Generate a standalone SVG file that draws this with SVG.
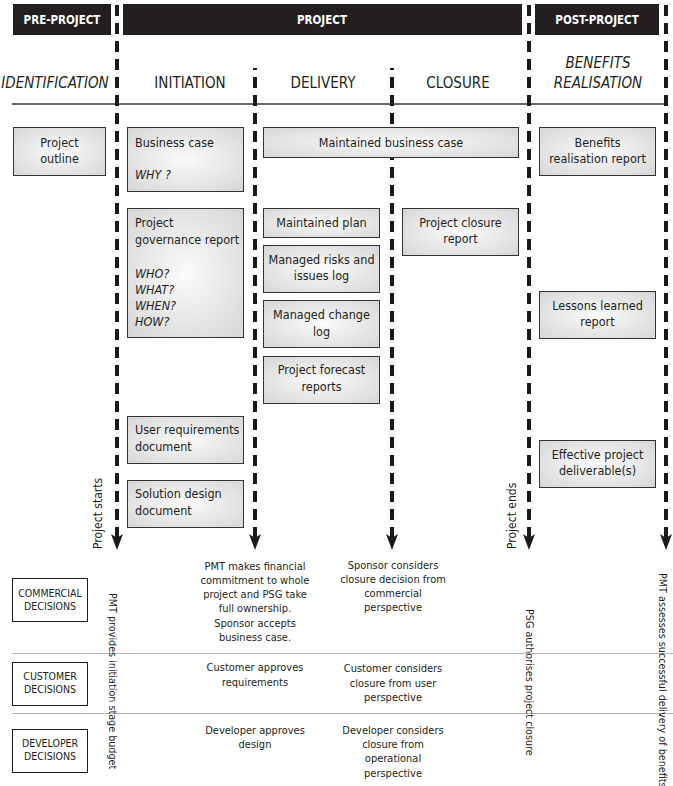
<svg xmlns="http://www.w3.org/2000/svg" width="673" height="786" viewBox="0 0 673 786">
<defs>
<radialGradient id="g" cx="50%" cy="50%" r="70%">
<stop offset="0" stop-color="#fbfbfb"/>
<stop offset="1" stop-color="#d6d6d6"/>
</radialGradient>
<marker id="ah" viewBox="0 0 16 12" refX="4" refY="6" markerWidth="16" markerHeight="12" markerUnits="userSpaceOnUse" orient="auto-start-reverse">
<path d="M0,0 L16,6 L0,12 L4,6 Z" fill="#1a1a1a"/>
</marker>
<style>
text{font-family:"DejaVu Sans Condensed","DejaVu Sans",sans-serif;fill:#231f20}
.hb{fill:#231f20}
.ht{fill:#fff;font-weight:bold;font-size:11.5px;text-anchor:middle}
.ph{font-size:15px;text-anchor:middle}
.it{font-style:italic}
.bx{fill:url(#g);stroke:#333;stroke-width:1}
.t{font-size:12.5px}
.c{text-anchor:middle}
.dl{fill:none;stroke:#1a1a1a;stroke-width:4;stroke-dasharray:11 7;marker-start:url(#ah)}
.db{fill:#fff;stroke:#1a1a1a;stroke-width:1}
.dt{font-size:10.5px;text-anchor:middle}
.bt{font-size:11px;text-anchor:middle}
.vt{font-size:10.7px}
.pt{font-size:12px}
.hr{stroke:#b5b5b5;stroke-width:1}
</style>
</defs>
<rect width="673" height="786" fill="#fff"/>

<g id="headers">
<rect class="hb" x="13" y="4" width="98" height="31"/>
<text class="ht" x="62" y="23.5">PRE-PROJECT</text>
<rect class="hb" x="123" y="4" width="399" height="31"/>
<text class="ht" x="322" y="23.5">PROJECT</text>
<rect class="hb" x="535" y="4" width="124" height="31"/>
<text class="ht" x="597" y="23.5">POST-PROJECT</text>
</g>

<g id="phases">
<text class="ph it" x="55" y="88">IDENTIFICATION</text>
<text class="ph" x="190" y="88">INITIATION</text>
<text class="ph" x="323" y="88">DELIVERY</text>
<text class="ph" x="458" y="88">CLOSURE</text>
<text class="ph it" x="598" y="68">BENEFITS</text>
<text class="ph it" x="598" y="88">REALISATION</text>
<line x1="12" y1="104" x2="667" y2="104" stroke="#333" stroke-width="1.5"/>
</g>

<g id="connectors">
<path class="dl" d="M117,538 V0"/>
<path class="dl" d="M255,538 V68"/>
<path class="dl" d="M392,538 V68"/>
<path class="dl" d="M529,538 V0"/>
<path class="dl" d="M666,538 V0"/>
</g>

<g id="project-outline">
<rect class="bx" x="13.5" y="127.5" width="92" height="48"/>
<text class="t c" x="59.5" y="146.5">Project</text>
<text class="t c" x="59.5" y="162.5">outline</text>
</g>
<g id="business-case">
<rect class="bx" x="127.5" y="127.5" width="116" height="64"/>
<text class="t" x="135" y="147">Business case</text>
<text class="t it" x="135" y="179">WHY ?</text>
</g>
<g id="maintained-business-case">
<rect class="bx" x="263.5" y="127.5" width="255" height="30"/>
<text class="t c" x="391" y="147">Maintained business case</text>
</g>
<g id="benefits-realisation-report">
<rect class="bx" x="539.5" y="127.5" width="116" height="48"/>
<text class="t c" x="597.5" y="146.5">Benefits</text>
<text class="t c" x="597.5" y="162.5">realisation report</text>
</g>
<g id="project-governance-report">
<rect class="bx" x="127.5" y="208.5" width="116" height="129"/>
<text class="t" x="135" y="227">Project</text>
<text class="t" x="135" y="243.5">governance report</text>
<text class="t it" x="135" y="277.5">WHO?</text>
<text class="t it" x="135" y="293.5">WHAT?</text>
<text class="t it" x="135" y="309.5">WHEN?</text>
<text class="t it" x="135" y="326">HOW?</text>
</g>
<g id="maintained-plan">
<rect class="bx" x="263.5" y="208.5" width="116" height="29"/>
<text class="t c" x="321.5" y="227">Maintained plan</text>
</g>
<g id="managed-risks">
<rect class="bx" x="263.5" y="245.5" width="116" height="47"/>
<text class="t c" x="321.5" y="263.5">Managed risks and</text>
<text class="t c" x="321.5" y="280">issues log</text>
</g>
<g id="managed-change-log">
<rect class="bx" x="263.5" y="300.5" width="116" height="47"/>
<text class="t c" x="321.5" y="318.5">Managed change</text>
<text class="t c" x="321.5" y="335.5">log</text>
</g>
<g id="project-forecast-reports">
<rect class="bx" x="263.5" y="356.5" width="116" height="47"/>
<text class="t c" x="321.5" y="373.5">Project forecast</text>
<text class="t c" x="321.5" y="390.5">reports</text>
</g>
<g id="project-closure-report">
<rect class="bx" x="402.5" y="208.5" width="116" height="47"/>
<text class="t c" x="460.5" y="226.5">Project closure</text>
<text class="t c" x="460.5" y="243">report</text>
</g>
<g id="lessons-learned-report">
<rect class="bx" x="539.5" y="291.5" width="116" height="47"/>
<text class="t c" x="597.5" y="309.5">Lessons learned</text>
<text class="t c" x="597.5" y="326">report</text>
</g>
<g id="user-requirements-document">
<rect class="bx" x="127.5" y="416.5" width="116" height="47"/>
<text class="t" x="135" y="433.5">User requirements</text>
<text class="t" x="135" y="450.5">document</text>
</g>
<g id="solution-design-document">
<rect class="bx" x="127.5" y="480.5" width="116" height="47"/>
<text class="t" x="135" y="497.5">Solution design</text>
<text class="t" x="135" y="514.5">document</text>
</g>
<g id="effective-project-deliverables">
<rect class="bx" x="539.5" y="440.5" width="116" height="47"/>
<text class="t c" x="597.5" y="458.5">Effective project</text>
<text class="t c" x="597.5" y="475">deliverable(s)</text>
</g>

<g id="milestones">
<text class="pt" transform="translate(102,549) rotate(-90)">Project starts</text>
<text class="pt" transform="translate(516,549) rotate(-90)">Project ends</text>
</g>

<g id="decision-rows">
<line class="hr" x1="12" y1="653.5" x2="673" y2="653.5"/>
<line class="hr" x1="12" y1="713.5" x2="673" y2="713.5"/>
</g>

<g id="commercial-decisions">
<rect class="db" x="12.5" y="578.5" width="75" height="43"/>
<text class="dt" x="50" y="597">COMMERCIAL</text>
<text class="dt" x="50" y="610">DECISIONS</text>
</g>
<g id="customer-decisions">
<rect class="db" x="12.5" y="662.5" width="75" height="43"/>
<text class="dt" x="50" y="680">CUSTOMER</text>
<text class="dt" x="50" y="693">DECISIONS</text>
</g>
<g id="developer-decisions">
<rect class="db" x="12.5" y="729.5" width="75" height="43"/>
<text class="dt" x="50" y="747">DEVELOPER</text>
<text class="dt" x="50" y="760">DECISIONS</text>
</g>

<g id="initiation-decisions">
<text class="bt" x="255" y="570">PMT makes financial</text>
<text class="bt" x="255" y="584">commitment to whole</text>
<text class="bt" x="255" y="598">project and PSG take</text>
<text class="bt" x="255" y="612">full ownership.</text>
<text class="bt" x="255" y="627">Sponsor accepts</text>
<text class="bt" x="255" y="641">business case.</text>
<text class="bt" x="255" y="671">Customer approves</text>
<text class="bt" x="255" y="686">requirements</text>
<text class="bt" x="255" y="734">Developer approves</text>
<text class="bt" x="255" y="748">design</text>
</g>
<g id="closure-decisions">
<text class="bt" x="393" y="569">Sponsor considers</text>
<text class="bt" x="393" y="583">closure decision from</text>
<text class="bt" x="393" y="597">commercial</text>
<text class="bt" x="393" y="611">perspective</text>
<text class="bt" x="393" y="672">Customer considers</text>
<text class="bt" x="393" y="687">closure from user</text>
<text class="bt" x="393" y="701">perspective</text>
<text class="bt" x="393" y="734">Developer considers</text>
<text class="bt" x="393" y="748">closure from</text>
<text class="bt" x="393" y="762">operational</text>
<text class="bt" x="393" y="777">perspective</text>
</g>
<g id="gate-decisions">
<text class="vt" transform="translate(109,593) rotate(90)">PMT provides initiation stage budget</text>
<text class="vt" transform="translate(526,609) rotate(90)">PSG authorises project closure</text>
<text class="vt" transform="translate(659,573) rotate(90)">PMT assesses successful delivery of benefits</text>
</g>
</svg>
